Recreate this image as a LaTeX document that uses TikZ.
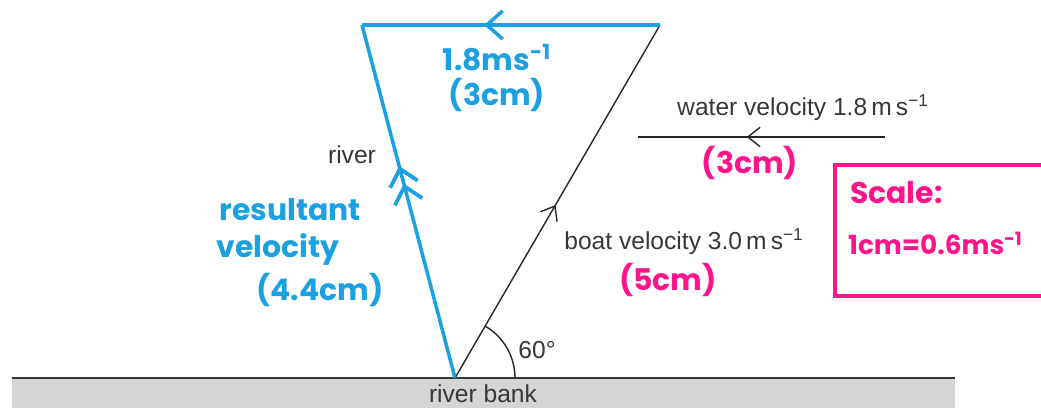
\documentclass[tikz,border=0pt]{standalone}
\usepackage{fontspec}
\setmainfont{Liberation Sans}
\newfontfamily\handfont{Poppins}
\usepackage{xcolor}
\usetikzlibrary{positioning,arrows.meta,decorations.markings}
\definecolor{penblue}{RGB}{27,161,226}
\definecolor{penpink}{RGB}{255,20,140}
\definecolor{bankgrey}{RGB}{212,213,215}
\definecolor{inkgrey}{RGB}{55,55,55}

\begin{document}
\begin{tikzpicture}[
  x=0.02cm, y=0.02cm,
  txt/.style={font=\fontsize{14}{16}\selectfont, text=inkgrey, inner sep=1pt},
  bluetxt/.style={font=\handfont\bfseries\fontsize{17}{19}\selectfont, text=penblue,
                  inner sep=1pt, align=center},
  pinktxt/.style={font=\handfont\bfseries\fontsize{17}{19}\selectfont, text=penpink,
                  inner sep=1pt},
  vec/.style={line width=0.8pt, inkgrey!70!black},
  bluevec/.style={line width=2pt, penblue},
  midarr/.style={postaction=decorate, decoration={markings,
      mark=at position #1 with {\arrow{Straight Barb[length=7pt,width=11pt]}}}},
  bluearr/.style={postaction=decorate, decoration={markings,
      mark=at position #1 with {\arrow[line width=2pt]{Straight Barb[length=9pt,width=16pt]}}}}
]
\useasboundingbox (0,0) rectangle (1041,408);
\clip (0,0) rectangle (1041,408);

% river bank
\fill[bankgrey] (12,0) rectangle (955,30);
\draw[line width=1.2pt, inkgrey] (12,30) -- (955,30);
\node[txt, inner sep=0pt] (bank) at (483,14) {river bank};

% triangle corners
\coordinate (O) at (455,30);
\coordinate (A) at (660,383);
\coordinate (B) at (362,383);

% vectors
\draw[vec, midarr=0.49] (O) -- (A);
\draw[bluevec, bluearr=0.59] (A) -- (B);
\draw[bluevec, bluearr=0.55, bluearr=0.6] (O) -- (B);

% angle
\draw[vec] (515,30) arc[start angle=0, end angle=60, radius=60];
\node[txt] (ang) at (537,58) {60°};

\node[txt] (river) at (352,253) {river};

% water velocity
\coordinate (wR) at (885,271);
\coordinate (wL) at (638,271);
\draw[vec, midarr=0.56] (wR) -- (wL);
\node[txt] (water) at (803,300) {water velocity 1.8\,m\,s\textsuperscript{−1}};
\node[pinktxt] (water3) at (750,245) {(3cm)};

% boat velocity
\node[txt] (boat) at (684,166) {boat velocity 3.0\,m\,s\textsuperscript{−1}};
\node[pinktxt] (boat5) at (668,128) {(5cm)};

% handwritten labels
\node[bluetxt] (top) at (497,350) {1.8ms\textsuperscript{-1}};
\node[bluetxt, below=0.05cm of top] (top3) {(3cm)};
\node[bluetxt] (res) at (290,198) {resultant};
\node[bluetxt] (vel) at (278,158) {velocity};
\node[bluetxt] (res44) at (320,118) {(4.4cm)};

% scale box
\draw[penpink, line width=2pt] (1060,243) -| (835,112) -- (1060,112);
\node[pinktxt, anchor=west] (scale) at (848,215) {Scale:};
\node[pinktxt, anchor=west, font=\handfont\bfseries\fontsize{15}{17}\selectfont]
  (scale2) at (846,165) {1cm=0.6ms\textsuperscript{-1}};
\end{tikzpicture}
\end{document}
